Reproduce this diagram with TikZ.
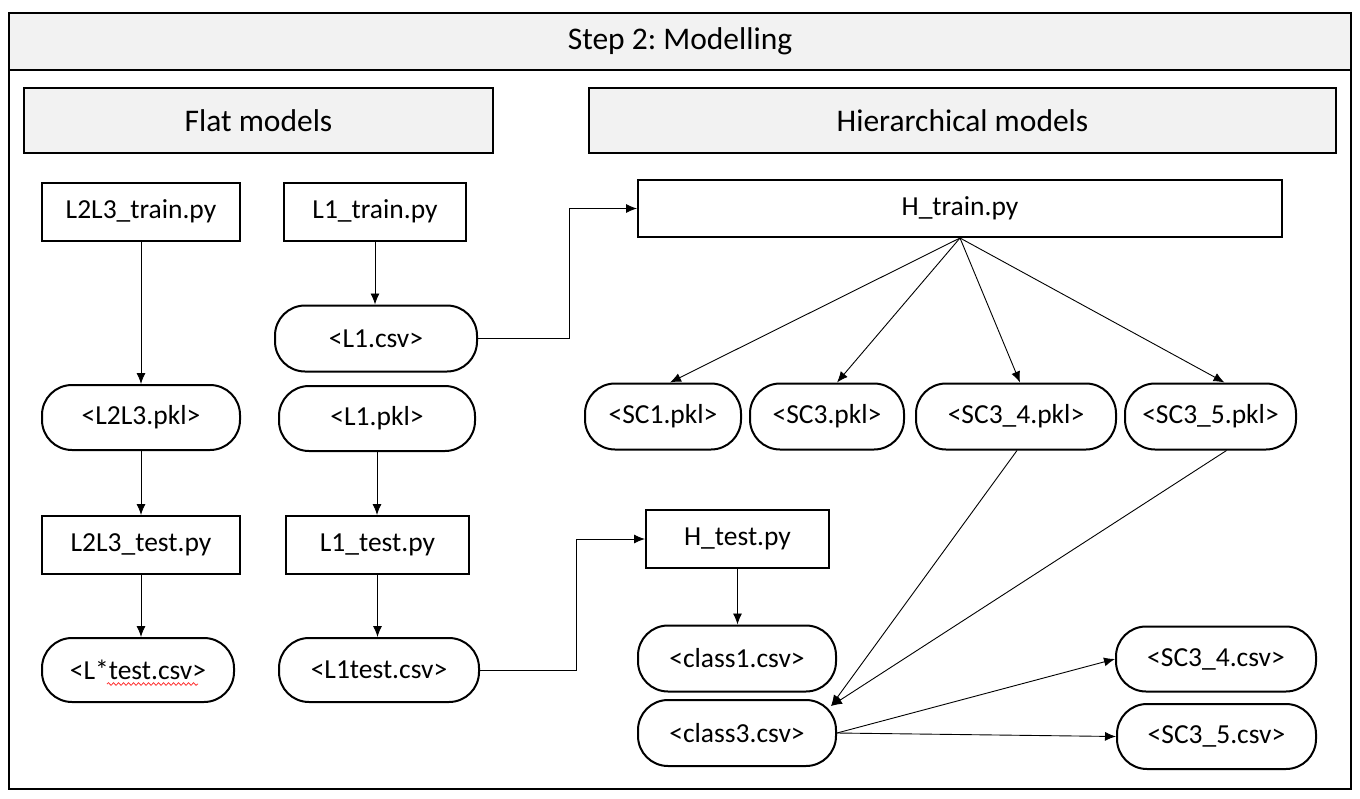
\documentclass[tikz,border=0pt]{standalone}
\usepackage{fontspec}
\setmainfont{Carlito}
\usetikzlibrary{arrows.meta,calc,decorations.pathmorphing}
\definecolor{hdrgray}{HTML}{F2F2F2}
\tikzset{
  hdr/.style={draw, line width=2pt, fill=hdrgray, inner sep=0pt, font=\fontsize{31.5}{36}\selectfont},
  sq/.style={draw, line width=2pt, fill=white, inner sep=0pt, font=\fontsize{27.5}{31}\selectfont},
  pill/.style={draw, line width=2pt, fill=white, rounded corners=30pt, inner sep=0pt, font=\fontsize{27.5}{31}\selectfont},
  conn/.style={line width=0.9pt, -{Latex[length=11pt,width=9pt]}},
}
\frenchspacing
\begin{document}
\begin{tikzpicture}[x=1pt,y=-1pt]
\useasboundingbox (0,0) rectangle (1360,798);
% outer frame and title band
\node[hdr, minimum width=1342pt, minimum height=57pt, anchor=north west] (title) at (8,12) {Step 2: Modelling};
\node[draw, line width=2pt, minimum width=1342pt, minimum height=719pt, anchor=north west, inner sep=0pt] (frame) at (8,69) {};
% section headers
\node[hdr, minimum width=469pt, minimum height=65pt] (flat) at (258.5,120.5) {Flat models};
\node[hdr, minimum width=747pt, minimum height=65pt] (hier) at (962.5,120.5) {Hierarchical models};
% flat column 1
\node[sq, minimum width=198pt, minimum height=58pt] (l23train) at (141,211.5) {L2L3\_train.py};
\node[pill, minimum width=198pt, minimum height=65pt] (l23pkl) at (141,417.5) {<L2L3.pkl>};
\node[sq, minimum width=198pt, minimum height=58pt] (l23test) at (141,545) {L2L3\_test.py};
\node[pill, minimum width=192pt, minimum height=64pt] (lstar) at (138,670) {<L*test.csv>};
% flat column 2
\node[sq, minimum width=182pt, minimum height=58pt] (l1train) at (375,211.5) {L1\_train.py};
\node[pill, minimum width=202pt, minimum height=66pt] (l1csv) at (376,338.5) {<L1.csv>};
\node[pill, minimum width=196pt, minimum height=65pt] (l1pkl) at (377,418.5) {<L1.pkl>};
\node[sq, minimum width=183pt, minimum height=58pt] (l1test) at (377.5,545) {L1\_test.py};
\node[pill, minimum width=200pt, minimum height=64pt] (l1tcsv) at (379,670) {<L1test.csv>};
% hierarchical
\node[sq, minimum width=644pt, minimum height=57pt] (htrain) at (960,208.5) {H\_train.py};
\node[pill, minimum width=156pt, minimum height=66pt] (sc1) at (663,416.5) {<SC1.pkl>};
\node[pill, minimum width=154pt, minimum height=66pt] (sc3) at (827,416.5) {<SC3.pkl>};
\node[pill, minimum width=200pt, minimum height=66pt] (sc34) at (1016,416.5) {<SC3\_4.pkl>};
\node[pill, minimum width=171pt, minimum height=66pt] (sc35) at (1210.5,416.5) {<SC3\_5.pkl>};
\node[sq, minimum width=183pt, minimum height=58pt] (htest) at (737.5,539) {H\_test.py};
\node[pill, minimum width=198pt, minimum height=66pt] (c1) at (737,658.5) {<class1.csv>};
\node[pill, minimum width=198pt, minimum height=66pt] (c3) at (737,733) {<class3.csv>};
\node[pill, minimum width=200pt, minimum height=65pt] (sc34csv) at (1216,659) {<SC3\_4.csv>};
\node[pill, minimum width=199pt, minimum height=65pt] (sc35csv) at (1216.5,736.5) {<SC3\_5.csv>};
% spell-check squiggle
\coordinate (sqa) at (107,684);
\coordinate (sqb) at (198,684);
\draw[red!80!white, line width=0.8pt, decorate, decoration={snake, amplitude=1.3pt, segment length=5pt}] (sqa) -- (sqb);
% connectors flat
\draw[conn] (l23train.south) -- (l23pkl.north);
\draw[conn] (l23pkl.south) -- (l23test.north);
\draw[conn] (l23test.south) -- (l23test.south |- lstar.north);
\draw[conn] (l1train.south) -- (l1train.south |- l1csv.north);
\draw[conn] (l1pkl.south) -- (l1pkl.south |- l1test.north);
\draw[conn] (l1test.south) -- (l1test.south |- l1tcsv.north);
% elbows
\coordinate (e1) at (569,338.5);
\draw[conn] (l1csv.east) -- (e1) |- (htrain.west);
\coordinate (e2) at (576,670);
\draw[conn] (l1tcsv.east) -- (e2) |- (htest.west);
% fan from H_train
\draw[conn] (htrain.south) -- ([xshift=7pt]sc1.north);
\draw[conn] (htrain.south) -- ([xshift=10pt]sc3.north);
\draw[conn] (htrain.south) -- ([xshift=4pt]sc34.north);
\draw[conn] (htrain.south) -- ([xshift=14pt]sc35.north);
\draw[conn] (htest.south) -- (htest.south |- c1.north);
% to class3
\coordinate (c3in) at ([shift={(-6,7)}]c3.north east);
\draw[conn] ([xshift=1pt]sc34.south) -- (c3in);
\draw[conn] ([xshift=16pt]sc35.south) -- (c3in);
% from class3
\draw[conn] (c3.east) -- (sc34csv.west);
\draw[conn] (c3.east) -- (sc35csv.west);
\end{tikzpicture}
\end{document}
